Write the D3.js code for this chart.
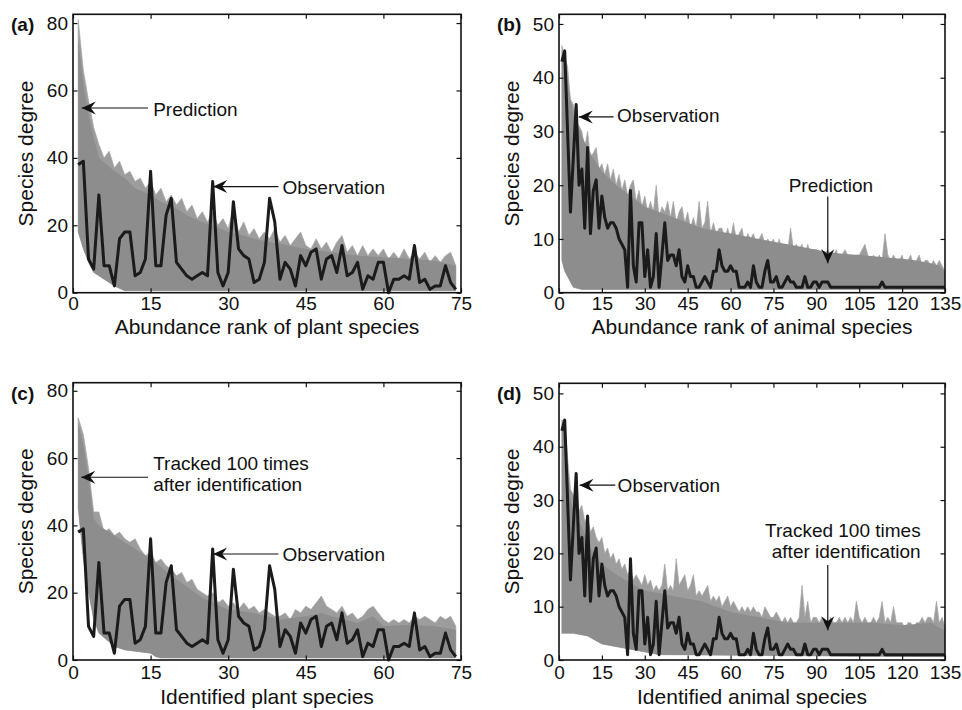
<!DOCTYPE html>
<html>
<head>
  <meta charset="utf-8" />
  <script src="https://d3js.org/d3.v7.min.js"></script>
  <style>
    body { margin: 0; background: #fff; }
    text { font-family: "Liberation Sans", Arial, Helvetica, sans-serif; fill: #111; }
  </style>
</head>
<body>
<div id="chart"></div>
<script>

// ---- data ----
var plantXTicks = [0, 15, 30, 45, 60, 75];
var animalXTicks = [0, 15, 30, 45, 60, 75, 90, 105, 120, 135];
var plantYTicks = [0, 20, 40, 60, 80];
var animalYTicks = [0, 10, 20, 30, 40, 50];

// observed degree of plant species, by abundance rank (1..74)
var plantObs = [38,39,10,7,29,8,8,2,16,18, 18,5,6,10,36,8,8,23,28,9,
  7,5,4,5,6,5,33,6,2,6, 27,13,11,10,3,4,9,28,21,4, 9,7,2,11,8,12,13,4,10,11,
  6,14,5,6,9,1,5,4,9,9, 0,4,4,5,4,14,3,4,1,2, 2,8,3,1];

// observed degree of animal species, by abundance rank (1..135)
var animalObs = [43,45,30,15,25,35,20,23,12,27, 11,19,21,12,18,14,12,13,13,12,
  10,9,8,1,19,5,2,13,13,3, 8,1,3,11,1,7,13,6,7,7, 5,8,3,2,5,3,3,1,1,2,
  3,2,1,4,4,8,5,4,4,5, 4,4,1,1,1,2,1,5,2,1, 1,4,6,2,2,3,1,1,2,3,
  2,2,1,1,1,3,1,1,2,2, 1,2,2,2,1,1,1,1,1,1, 1,1,1,1,1,1,1,1,1,1,
  1,1,2,1,1,1,1,1,1,1, 1,1,1,1,1,1,1,1,1,1, 1,1,1,1,1];

// (a) predictions: highest of the 100 runs at each rank, dense band, lower edge
var aHi = [81,66,57,49,44,40,42,37,39,35, 36,33,34,31,33,29,31,27,29,26,
  28,24,26,22,24,21,24,20,22,19, 25,18,21,17,19,16,18,16,19,15, 17,14,16,18,14,13,16,13,15,12,
  15,17,12,14,11,14,11,13,11,13, 10,12,10,13,10,12,10,12,9,11, 9,11,12,8];
var aDenseX = [1,2,3,4,5,8,10,12,15,17,20,22,25,27,30,33,35,38,40,45,50,55,60,65,70,74];
var aDense  = [75,62,53,46,40,36,34,31,29,27,25,23,21,20,18,17,16,15,14.5,13,12,11,10.5,10,9.5,8];
var aLowX = [1,2,3,4,5,6,7,8,10,74];
var aLow  = [18,13,9,6,5,4,3,2,0.6,0.6];

// (b) predictions for animals
var bHi = [46,44,42,36,35,32,31,30,27,30, 25,26,27,23,24,22,24,21,23,20,
  22,19,21,18,20,21,17,19,16,18, 15,17,15,20,14,16,15,17,14,17, 13,15,16,13,15,12,14,12,17,12,
  13,17,11,13,11,12,12,10,12,10, 13,10,11,12,9,11,10,11,9,10, 11,9,10,9,10,8,10,8,9,8,
  12,8,9,8,9,7,9,7,8,8, 7,8,7,8,7,7,8,6,7,8, 7,7,6,7,7,8,9,7,6,7,
  6,7,6,11,7,6,7,6,6,7, 5,6,7,5,6,7,5,6,6,5, 6,5,6,5,4];
var bDenseX = [1,2,3,5,8,10,12,15,20,25,30,35,40,45,50,55,60,65,70,75,80,85,90,95,100,105,110,115,120,125,130,133,135];
var bDense  = [45,43,39,33,29,27,25,22.5,20,18,16,15,14,13,12,11.5,11,10.5,10,9.5,9,8.5,8,7.5,7.2,7,6.8,6.5,6.3,6,5.5,5,3.8];
var bLowX = [1,2,3,4,5,8,135];
var bLow  = [6,4,3,2,1,0.6,0.6];

// (c) tracked 100 times after identification, plants
var cHi = [72,67,57,44,44,38,39,37,38,36, 35,36,33,31,32,29,30,28,27,25,
  26,23,24,21,20,19,20,17,18,16, 17,15,17,15,16,14,15,14,13,13, 14,12,15,14,16,15,17,19,16,15,
  14,16,13,14,12,13,15,16,14,12, 11,12,11,12,11,13,12,13,12,11, 13,12,13,10];
var cDenseX = [1,2,3,4,5,8,10,13,15,20,25,30,35,40,45,48,50,55,58,60,65,70,74];
var cDense  = [70,64,54,42,40,37,35,32,30,24,18.5,15,14,12,13,14,13,11,13,10,10.5,10,9];
var cLowX = [1,2,3,4,5,8,10,15,16,17,74];
var cLow  = [45,30,20,12,8,4,3,2,1,0.6,0.6];

// (d) tracked 100 times after identification, animals
var dHi = [45,45,38,32,31,30,28,29,26,27, 24,25,23,22,23,20,21,19,20,18,
  19,17,18,16,17,15,16,15,14,16, 14,15,13,14,13,14,18,13,14,13, 19,14,15,16,13,14,16,12,13,12,
  13,14,11,12,11,12,10,11,12,10, 11,10,9,10,9,10,9,10,9,9, 8,10,9,8,8,9,8,7,8,7,
  8,7,7,8,14,8,11,7,8,8, 7,8,7,7,8,7,7,8,7,8, 7,8,7,11,8,7,8,7,7,8,
  7,8,11,7,8,7,10,7,7,7, 6,7,7,6,7,7,8,7,8,8, 7,11,7,8,6];
var dDenseX = [1,2,3,4,5,8,10,12,15,20,25,30,35,40,45,50,55,60,65,70,75,80,90,100,110,120,130,135];
var dDense  = [44,44,36,30,28,25,22,20,18,16,14.5,13,12.5,12,11.5,11,10,9,8.5,8,7.5,7,7,7,7,6.5,7,5.5];
var dLowX = [1,5,10,15,20,25,35,135];
var dLow  = [5,5,4.5,3,2.5,2,1,0.6];

// ---- layout ----
var svg = d3.select("#chart").append("svg")
  .attr("width", 962)
  .attr("height", 710)
  .style("background", "#fff");

var panels = [
  {tag: "(a)", left: 73, right: 461, top: 14.3, bottom: 292.7, xMax: 75, yMax: 82.6,
   xTicks: plantXTicks, yTicks: plantYTicks, obs: plantObs, hi: aHi, denseX: aDenseX, dense: aDense, lowX: aLowX, low: aLow,
   xLabel: "Abundance rank of plant species", xLabelDy: 41, tickPad: 4,
   notes: [
     {text: ["Prediction"], tip: [1.7, 54.8], tail: [14.5, 54.8], tx: 15.5, ty: 52.4, anchor: "start"},
     {text: ["Observation"], tip: [27.1, 31.5], tail: [39.7, 31.5], tx: 40.5, ty: 29.2, anchor: "start"}
   ]},
  {tag: "(b)", left: 559, right: 945, top: 14.3, bottom: 292.7, xMax: 135, yMax: 51.8,
   xTicks: animalXTicks, yTicks: animalYTicks, obs: animalObs, hi: bHi, denseX: bDenseX, dense: bDense, lowX: bLowX, low: bLow,
   xLabel: "Abundance rank of animal species", xLabelDy: 41, tickPad: 4,
   notes: [
     {text: ["Observation"], tip: [6.9, 32.7], tail: [19.1, 32.7], tx: 20.3, ty: 31.7, anchor: "start"},
     {text: ["Prediction"], tip: [94, 5.5], tail: [94, 17.9], tx: 95.1, ty: 18.8, anchor: "middle"}
   ]},
  {tag: "(c)", left: 73, right: 461, top: 382.7, bottom: 660, xMax: 75, yMax: 82.4,
   xTicks: plantXTicks, yTicks: plantYTicks, obs: plantObs, hi: cHi, denseX: cDenseX, dense: cDense, lowX: cLowX, low: cLow,
   xLabel: "Identified plant species", xLabelDy: 44, tickPad: 6,
   notes: [
     {text: ["Tracked 100 times", "after identification"], tip: [1.6, 54.3], tail: [14.5, 54.3], tx: 15.5, ty: 56.4, anchor: "start"},
     {text: ["Observation"], tip: [27.1, 31.5], tail: [39.7, 31.5], tx: 40.5, ty: 29.3, anchor: "start"}
   ]},
  {tag: "(d)", left: 559, right: 945, top: 383.3, bottom: 660, xMax: 135, yMax: 51.9,
   xTicks: animalXTicks, yTicks: animalYTicks, obs: animalObs, hi: dHi, denseX: dDenseX, dense: dDense, lowX: dLowX, low: dLow,
   xLabel: "Identified animal species", xLabelDy: 44, tickPad: 6,
   notes: [
     {text: ["Observation"], tip: [7.2, 32.8], tail: [19.7, 32.8], tx: 20.5, ty: 31.6, anchor: "start"},
     {text: ["Tracked 100 times", "after identification"], tip: [94, 5.6], tail: [94, 17.8], tx: 126.5, ty: 23.1, anchor: "end"}
   ]}
];

panels.forEach(drawPanel);

function drawPanel(p) {
  var x = d3.scaleLinear().domain([0, p.xMax]).range([p.left, p.right]);
  var y = d3.scaleLinear().domain([0, p.yMax]).range([p.bottom, p.top]);
  var g = svg.append("g");

  var line = d3.line().x(function(d) { return x(d[0]); }).y(function(d) { return y(d[1]); });

  // lower edge of the band, walked backwards
  var lowPts = p.lowX.map(function(v, i) { return [v, p.low[i]]; }).reverse();

  // highest runs: thin light spikes on top of the band
  var hiPts = p.hi.map(function(v, i) { return [i + 1, v]; });
  g.append("path")
    .attr("d", line(hiPts.concat(lowPts)) + "Z")
    .attr("fill", "#9d9d9d")
    .attr("stroke", "#a6a6a6")
    .attr("stroke-width", 0.7)
    .attr("stroke-linejoin", "round");

  // dense part of the 100 runs
  var densePts = p.denseX.map(function(v, i) { return [v, p.dense[i]]; });
  g.append("path")
    .attr("d", line(densePts.concat(lowPts)) + "Z")
    .attr("fill", "#8d8d8d");

  // observation
  g.append("path")
    .datum(p.obs.map(function(v, i) { return [i + 1, v]; }))
    .attr("d", line)
    .attr("fill", "none")
    .attr("stroke", "#1b1b1b")
    .attr("stroke-width", 3)
    .attr("stroke-linejoin", "round");

  // axes with inward ticks on all four sides
  var tk = 4.5;
  g.append("g")
    .attr("transform", "translate(0," + p.bottom + ")")
    .call(d3.axisBottom(x).tickValues(p.xTicks).tickSizeInner(-tk).tickSizeOuter(0).tickPadding(p.tickPad));
  g.append("g")
    .attr("transform", "translate(0," + p.top + ")")
    .call(d3.axisTop(x).tickValues(p.xTicks).tickSizeInner(-tk).tickSizeOuter(0).tickFormat(""));
  g.append("g")
    .attr("transform", "translate(" + p.left + ",0)")
    .call(d3.axisLeft(y).tickValues(p.yTicks).tickSizeInner(-tk).tickSizeOuter(0).tickPadding(5));
  g.append("g")
    .attr("transform", "translate(" + p.right + ",0)")
    .call(d3.axisRight(y).tickValues(p.yTicks).tickSizeInner(-tk).tickSizeOuter(0).tickFormat(""));

  g.selectAll(".domain").remove();
  g.selectAll(".tick line").attr("stroke", "#111").attr("stroke-width", 1.2);
  g.selectAll(".tick text")
    .style("font-size", "19px")
    .style("font-family", "'Liberation Sans', Arial, sans-serif")
    .attr("fill", "#111");

  g.append("rect")
    .attr("x", p.left).attr("y", p.top)
    .attr("width", p.right - p.left).attr("height", p.bottom - p.top)
    .attr("fill", "none").attr("stroke", "#111").attr("stroke-width", 1.6);

  // titles
  g.append("text")
    .attr("x", (p.left + p.right) / 2)
    .attr("y", p.bottom + p.xLabelDy)
    .attr("text-anchor", "middle")
    .style("font-size", "21px")
    .text(p.xLabel);

  g.append("text")
    .attr("transform", "translate(" + (p.left - 40) + "," + ((p.top + p.bottom) / 2) + ") rotate(-90)")
    .attr("text-anchor", "middle")
    .style("font-size", "21px")
    .text("Species degree");

  g.append("text")
    .attr("x", p.left - 62)
    .attr("y", p.top + 17)
    .style("font-size", "19px")
    .style("font-weight", "bold")
    .text(p.tag);

  // annotations
  p.notes.forEach(function(n) {
    var x1 = x(n.tail[0]), y1 = y(n.tail[1]), x2 = x(n.tip[0]), y2 = y(n.tip[1]);
    g.append("line")
      .attr("x1", x1).attr("y1", y1).attr("x2", x2).attr("y2", y2)
      .attr("stroke", "#111").attr("stroke-width", 1.2);
    var ang = Math.atan2(y2 - y1, x2 - x1) * 180 / Math.PI;
    g.append("path")
      .attr("d", "M0,0 L-14,-6.5 L-9,0 L-14,6.5 Z")
      .attr("transform", "translate(" + x2 + "," + y2 + ") rotate(" + ang + ")")
      .attr("fill", "#111");
    var t = g.append("text")
      .attr("x", x(n.tx))
      .attr("y", y(n.ty))
      .attr("text-anchor", n.anchor)
      .style("font-size", "19px");
    n.text.forEach(function(s, i) {
      t.append("tspan").attr("x", x(n.tx)).attr("dy", i === 0 ? 0 : 21).text(s);
    });
  });
}
</script>
</body>
</html>
